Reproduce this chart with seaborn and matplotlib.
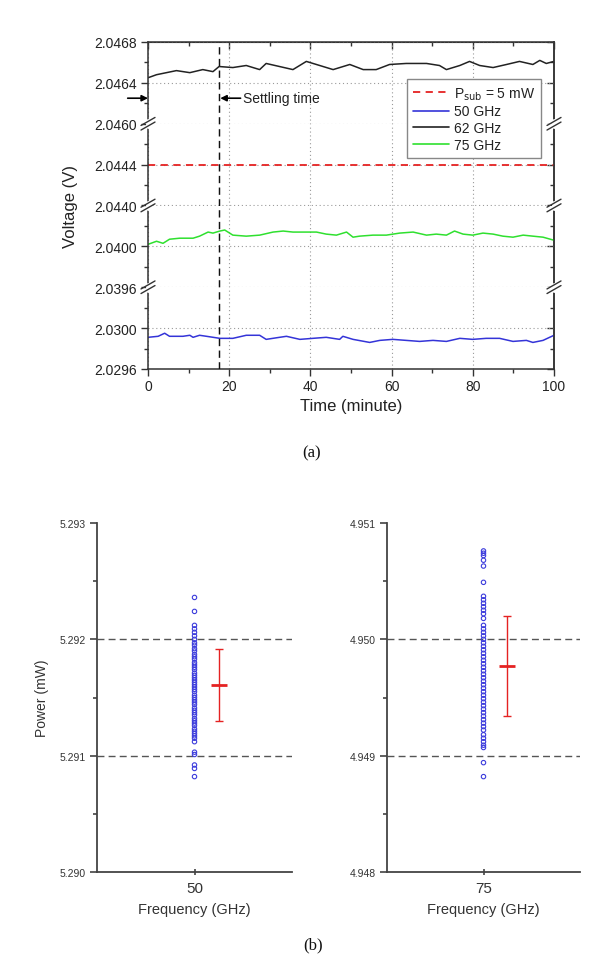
import seaborn as sns
import matplotlib.pyplot as plt
from matplotlib.lines import Line2D
from matplotlib.ticker import FormatStrFormatter

# ---- (a) output voltage vs time ----
t62 = [0, 2.1, 7.0, 10.3, 13.5, 16.0, 17.5, 20.9, 24.2, 27.5, 29.1, 32.4, 35.7, 39.0, 42.3, 45.6, 49.7,
       53.0, 56.2, 59.5, 63.6, 68.6, 71.8, 73.5, 76.8, 79.2, 81.7, 85.0, 88.3, 91.5, 94.8, 96.5, 98.1, 100]
v62 = [2.04645, 2.04648, 2.04652, 2.04650, 2.04653, 2.04651, 2.04656, 2.04655, 2.04657, 2.04653, 2.04659,
       2.04656, 2.04653, 2.04661, 2.04657, 2.04653, 2.04658, 2.04653, 2.04653, 2.04658, 2.04659, 2.04659,
       2.04657, 2.04653, 2.04657, 2.04661, 2.04657, 2.04655, 2.04658, 2.04661, 2.04658, 2.04662, 2.04659, 2.04661]

t75 = [0, 2.1, 3.7, 5.3, 7.8, 11.1, 12.7, 14.8, 16.0, 17.7, 18.9, 20.9, 24.2, 27.5, 30.8, 33.3, 35.7, 39.0,
       41.5, 43.9, 46.4, 48.9, 50.5, 52.1, 55.4, 58.7, 62.0, 65.3, 68.6, 71.0, 73.5, 75.5, 77.6, 80.0, 82.5,
       85.0, 87.4, 89.9, 92.4, 94.8, 97.3, 100]
v75 = [2.04002, 2.04005, 2.04003, 2.04007, 2.04008, 2.04008, 2.04010, 2.04014, 2.04013, 2.04015, 2.04016,
       2.04011, 2.04010, 2.04011, 2.04014, 2.04015, 2.04014, 2.04014, 2.04014, 2.04012, 2.04011, 2.04014,
       2.04009, 2.04010, 2.04011, 2.04011, 2.04013, 2.04014, 2.04011, 2.04012, 2.04011, 2.04015, 2.04012,
       2.04011, 2.04013, 2.04012, 2.04010, 2.04009, 2.04011, 2.04010, 2.04009, 2.04006]

t50 = [0, 2.5, 4.1, 5.3, 8.6, 10.3, 11.1, 12.7, 14.4, 17.7, 20.9, 24.2, 27.5, 29.1, 32.4, 34.1, 37.4, 40.6,
       43.9, 47.2, 48.0, 50.5, 54.6, 57.1, 60.3, 63.6, 66.9, 70.2, 73.5, 76.8, 80.0, 83.3, 86.6, 89.9, 93.2,
       94.8, 97.3, 100]
v50 = [2.02991, 2.02992, 2.02995, 2.02992, 2.02992, 2.02993, 2.02991, 2.02993, 2.02992, 2.02990, 2.02990,
       2.02993, 2.02993, 2.02989, 2.02991, 2.02992, 2.02989, 2.02990, 2.02991, 2.02989, 2.02992, 2.02989,
       2.02986, 2.02988, 2.02989, 2.02988, 2.02987, 2.02988, 2.02987, 2.02990, 2.02989, 2.02990, 2.02990,
       2.02987, 2.02988, 2.02986, 2.02988, 2.02993]

settle_t = 17.5
p_sub_v = 2.0444
arrow_v = 2.04625

# broken axis segments: (low, high, labelled ticks)
segments = [(2.0460, 2.0468, [2.0460, 2.0464, 2.0468]),
            (2.0440, 2.0448, [2.0440, 2.0444]),
            (2.0396, 2.0404, [2.0396, 2.0400]),
            (2.0296, 2.0304, [2.0296, 2.0300])]

# ---- (b) repeated power readings ----
p50 = [5.29236, 5.29224, 5.29212, 5.29209, 5.29206, 5.29203, 5.29200, 5.29197, 5.29195, 5.29192, 5.29190,
       5.29187, 5.29185, 5.29183, 5.29180, 5.29178, 5.29176, 5.29174, 5.29171, 5.29169, 5.29167, 5.29165,
       5.29163, 5.29161, 5.29159, 5.29157, 5.29155, 5.29152, 5.29150, 5.29148, 5.29146, 5.29144, 5.29141,
       5.29139, 5.29137, 5.29135, 5.29132, 5.29130, 5.29128, 5.29126, 5.29123, 5.29121, 5.29119, 5.29117,
       5.29115, 5.29112, 5.29103, 5.29101, 5.29092, 5.29089, 5.29082]
p75 = [4.95076, 4.95074, 4.95072, 4.95068, 4.95063, 4.95049, 4.95037, 4.95034, 4.95031, 4.95028, 4.95025,
       4.95022, 4.95018, 4.95012, 4.95009, 4.95006, 4.95003, 4.95000, 4.94997, 4.94994, 4.94991, 4.94988,
       4.94985, 4.94982, 4.94979, 4.94976, 4.94973, 4.94970, 4.94967, 4.94964, 4.94961, 4.94958, 4.94955,
       4.94952, 4.94949, 4.94946, 4.94943, 4.94940, 4.94937, 4.94934, 4.94931, 4.94928, 4.94925, 4.94922,
       4.94918, 4.94915, 4.94912, 4.94909, 4.94907, 4.94894, 4.94882]
p50_mean, p50_sd = 5.29161, 0.00031
p75_mean, p75_sd = 4.94977, 0.00043

sns.set_style("ticks")
plt.rcParams['font.family'] = ['Liberation Sans', 'DejaVu Sans']
TXT = '#222222'

W, H = 607, 970
fig = plt.figure(figsize=(W / 100, H / 100), dpi=100)

# ---------- panel (a) ----------
L, R, T, B = 148, 554, 43, 370
seg_h = (B - T) / 4
red, blue, black, green = '#e52222', '#3434d8', '#222222', '#2fe02f'
axes = []
for i, (lo, hi, ticks) in enumerate(segments):
    top_px = T + i * seg_h
    ax = fig.add_axes([L / W, 1 - (top_px + seg_h) / H, (R - L) / W, seg_h / H])
    axes.append(ax)
    ax.set_xlim(0, 100)
    ax.set_ylim(lo, hi)
    ax.set_yticks(ticks)
    ax.set_yticks([lo + 0.0002, lo + 0.0006], minor=True)
    ax.yaxis.set_major_formatter(FormatStrFormatter('%.4f'))
    ax.set_xticks([0, 20, 40, 60, 80, 100])
    ax.set_xticks([10, 30, 50, 70, 90], minor=True)
    ax.grid(True, which='major', ls=(0, (1, 2.5)), color='#9a9a9a', lw=0.8)
    ax.tick_params(axis='y', which='major', direction='out', length=5, width=1, pad=3,
                   labelsize=10, labelcolor=TXT, color='#333')
    ax.tick_params(axis='y', which='minor', direction='out', length=3, width=1, color='#333')
    ax.tick_params(axis='x', which='major', direction='out', length=5, width=1, pad=2,
                   labelsize=10, labelcolor=TXT, color='#333')
    ax.tick_params(axis='x', which='minor', direction='out', length=3, width=1, color='#333')
    for s in ax.spines.values():
        s.set_color('#333')
        s.set_linewidth(1.1)
    if i > 0:
        ax.spines['top'].set_visible(False)
    if i < 3:
        ax.spines['bottom'].set_visible(False)
        ax.tick_params(axis='x', which='both', bottom=False, labelbottom=False)
    # inner ticks on the right side
    sec = ax.secondary_yaxis('right')
    sec.set_yticks(ticks)
    sec.set_yticks([lo + 0.0002, lo + 0.0006], minor=True)
    sec.tick_params(which='major', direction='in', length=5, width=1, labelright=False, color='#333')
    sec.tick_params(which='minor', direction='in', length=3, width=1, color='#333')
    sec.spines['right'].set_color('#333')
    sec.spines['right'].set_linewidth(1.1)
    ax.axvline(settle_t, color='#111', ls=(0, (5, 3)), lw=1.05, zorder=4)

top = axes[0].secondary_xaxis('top')
top.set_xticks([0, 20, 40, 60, 80, 100])
top.set_xticks([10, 30, 50, 70, 90], minor=True)
top.tick_params(which='major', direction='in', length=5, width=1, labeltop=False, color='#333')
top.tick_params(which='minor', direction='in', length=3, width=1, color='#333')
top.spines['top'].set_color('#333')

sns.lineplot(x=t62, y=v62, ax=axes[0], color=black, lw=1.1)
axes[1].axhline(p_sub_v, color=red, ls=(0, (4, 3)), lw=1.3)
sns.lineplot(x=t75, y=v75, ax=axes[2], color=green, lw=1.1)
sns.lineplot(x=t50, y=v50, ax=axes[3], color=blue, lw=1.1)
for ax in axes:
    ax.set_xlabel('')
    ax.set_ylabel('')

axes[0].annotate('', xy=(0, arrow_v), xytext=(-5, arrow_v), annotation_clip=False,
                 arrowprops=dict(arrowstyle='-|>', color='k', lw=1.2, mutation_scale=9,
                                 shrinkA=0, shrinkB=0))
axes[0].annotate('', xy=(settle_t + 0.3, arrow_v), xytext=(22.8, arrow_v),
                 arrowprops=dict(arrowstyle='-|>', color='k', lw=1.2, mutation_scale=9,
                                 shrinkA=0, shrinkB=0))
axes[0].text(23.3, arrow_v, 'Settling time', fontsize=10, color=TXT, va='center', ha='left')

axes[3].set_xlabel('Time (minute)', fontsize=12, color=TXT, labelpad=4)
fig.text(71 / W, 1 - 206 / H, 'Voltage (V)', rotation=90, fontsize=12, color=TXT,
         ha='center', va='center')

handles = [Line2D([], [], color=red, ls=(0, (4, 3)), lw=1.3),
           Line2D([], [], color=blue, lw=1.2),
           Line2D([], [], color=black, lw=1.2),
           Line2D([], [], color=green, lw=1.2)]
labels = [r'P$_{\mathrm{sub}}$ = 5 mW', '50 GHz', '62 GHz', '75 GHz']
leg = fig.legend(handles, labels, loc='upper left', bbox_to_anchor=(407 / W, 1 - 80 / H),
                 fontsize=10, frameon=True, fancybox=False, edgecolor='#888', framealpha=1,
                 handlelength=2.6, handletextpad=0.3, labelspacing=0.2, borderpad=0.45,
                 borderaxespad=0)
leg.get_frame().set_linewidth(1.0)
for txt in leg.get_texts():
    txt.set_color(TXT)


# axis-break marks on both spines
def break_mark(xp, yp):
    fig.add_artist(Line2D([xp / W, xp / W], [1 - (yp - 2.5) / H, 1 - (yp + 2.5) / H],
                          color='white', lw=3.5, zorder=10))
    for dy in (-2.3, 2.3):
        fig.add_artist(Line2D([(xp - 7) / W, (xp + 7) / W],
                              [1 - (yp + dy + 4) / H, 1 - (yp + dy - 4) / H],
                              color='#333', lw=1.0, zorder=11))


for k in (1, 2, 3):
    for xp in (L, R):
        break_mark(xp, T + k * seg_h)

fig.text(312 / W, 1 - 453 / H, '(a)', fontsize=12, color='#111', ha='center', va='center',
         family=['Liberation Serif', 'DejaVu Serif'])

# ---------- panel (b) ----------
pt_blue = '#3b3bdc'
bt, bb = 524, 873
panels = [(97, 292, 50, p50, p50_mean, p50_sd, 5.290, (40, 60), 52.5),
          (387, 580, 75, p75, p75_mean, p75_sd, 4.948, (65, 85), 77.4)]
for j, (lp, rp, freq, vals, mean, sd, base, xl, ebx) in enumerate(panels):
    ax = fig.add_axes([lp / W, 1 - bb / H, (rp - lp) / W, (bb - bt) / H])
    sns.scatterplot(x=[freq] * len(vals), y=vals, ax=ax, marker='o', s=10,
                    facecolors='none', edgecolor=pt_blue, linewidth=0.8, zorder=3)
    ax.errorbar([ebx], [mean], yerr=[sd], color=red, capsize=3, elinewidth=1.0,
                capthick=1.0, fmt='none', zorder=4)
    ax.plot([ebx], [mean], marker='_', ms=11, mew=2, color=red, zorder=5)
    ax.axhline(base + 0.001, color='#555', ls=(0, (5, 3)), lw=1.0, zorder=1)
    ax.axhline(base + 0.002, color='#555', ls=(0, (5, 3)), lw=1.0, zorder=1)
    ax.set_xlim(*xl)
    ax.set_ylim(base, base + 0.003)
    ax.set_xticks([freq])
    ax.set_yticks([base, base + 0.001, base + 0.002, base + 0.003])
    ax.set_yticks([base + 0.0005, base + 0.0015, base + 0.0025], minor=True)
    ax.yaxis.set_major_formatter(FormatStrFormatter('%.3f'))
    ax.tick_params(axis='y', which='major', direction='out', length=5, width=1.1, pad=3,
                   labelsize=7.5, labelcolor='#333', color='#333')
    ax.tick_params(axis='y', which='minor', direction='out', length=3, width=1.1, color='#333')
    ax.tick_params(axis='x', which='major', direction='inout', length=5, width=1.1, pad=4,
                   labelsize=11, labelcolor='#333', color='#333')
    for s in ('top', 'right'):
        ax.spines[s].set_visible(False)
    for s in ('left', 'bottom'):
        ax.spines[s].set_color('#444')
        ax.spines[s].set_linewidth(1.3)
    ax.set_xlabel('Frequency (GHz)', fontsize=10.5, color='#333', labelpad=5)
    ax.set_ylabel('')
    if j == 0:
        fig.text(42 / W, 1 - 698 / H, 'Power (mW)', rotation=90, fontsize=10, color='#333',
                 ha='center', va='center')

fig.text(313 / W, 1 - 945 / H, '(b)', fontsize=12, color='#111', ha='center', va='center',
         family=['Liberation Serif', 'DejaVu Serif'])

fig.savefig('out.png', dpi=100, facecolor='white')
